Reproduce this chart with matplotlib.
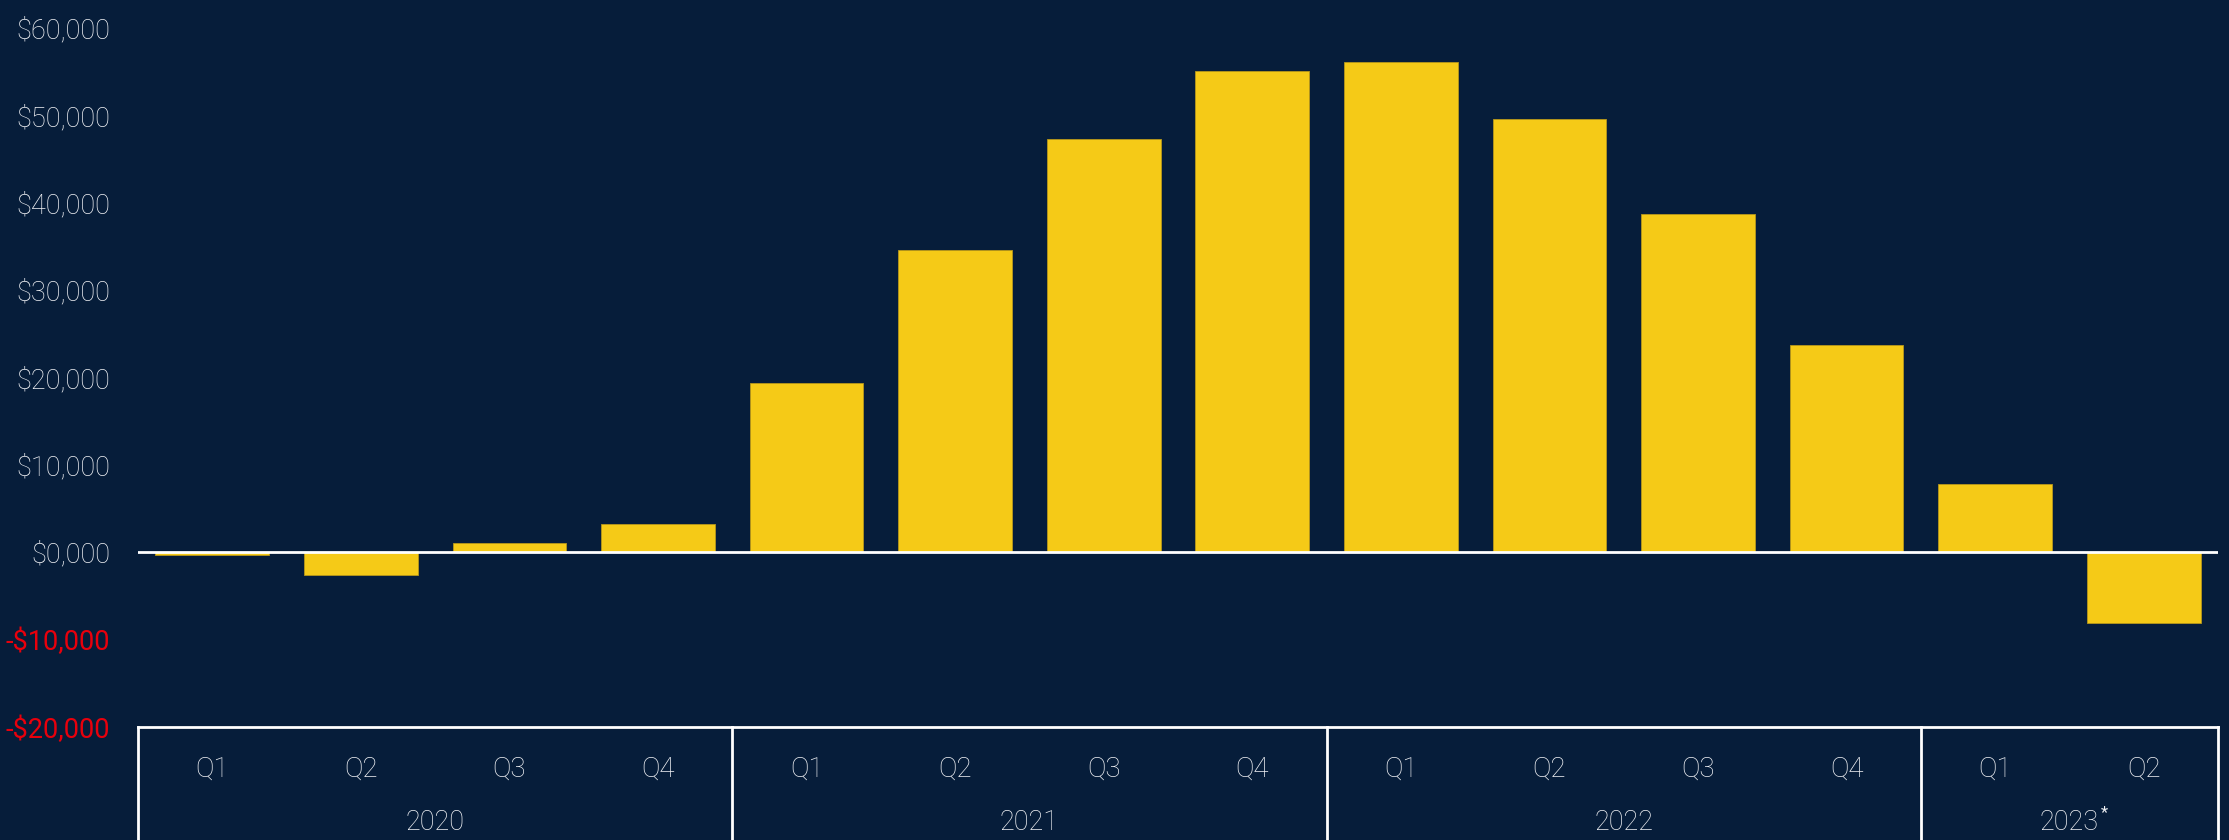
import matplotlib.pyplot as plt
import matplotlib.transforms as mtransforms
from matplotlib.ticker import FuncFormatter, MultipleLocator

# data
quarters = ['Q1', 'Q2', 'Q3', 'Q4', 'Q1', 'Q2', 'Q3', 'Q4',
            'Q1', 'Q2', 'Q3', 'Q4', 'Q1', 'Q2']
years = ['2020', '2021', '2022', '2023']
quarters_per_year = [4, 4, 4, 2]
values = [-300, -2600, 1100, 3200, 19400, 34600, 47300, 55100,
          56100, 49600, 38700, 23700, 7800, -8100]

# colours
bg_color = '#061d3a'
bar_color = '#f5ca17'
text_color = '#f2f3f6'
neg_color = '#e8000c'
line_color = '#ffffff'

plt.rcParams['font.family'] = ['Roboto', 'DejaVu Sans']

W, H = 2229, 840
fig = plt.figure(figsize=(W / 100, H / 100), dpi=100)
fig.patch.set_facecolor(bg_color)

ax_left, ax_right = 138, 2218
ax_top, ax_bottom = 28, 727
ax = fig.add_axes([ax_left / W, 1 - ax_bottom / H,
                   (ax_right - ax_left) / W, (ax_bottom - ax_top) / H])
ax.set_facecolor(bg_color)

x = list(range(len(values)))
ax.bar(x, values, width=0.765, color=bar_color, edgecolor='#b8981a',
       linewidth=0.6, zorder=2)

ax.set_xlim(-0.5, len(values) - 0.5)
ax.set_ylim(-20000, 60000)
ax.yaxis.set_major_locator(MultipleLocator(10000))


def money(v, pos):
    if v == 0:
        return '$0,000'
    s = '${:,.0f}'.format(abs(v))
    return '-' + s if v < 0 else s


ax.yaxis.set_major_formatter(FuncFormatter(money))
ax.tick_params(axis='y', length=0, pad=20, labelsize=19.5, colors=text_color)
ax.tick_params(axis='x', length=0, labelbottom=False)
for lbl in ax.get_yticklabels():
    lbl.set_fontweight('light')

# red for negative ticks
fig.canvas.draw()
for val, lbl in zip(ax.get_yticks(), ax.get_yticklabels()):
    if val < 0:
        lbl.set_color(neg_color)
        lbl.set_fontweight('normal')

for side in ['top', 'right', 'left']:
    ax.spines[side].set_visible(False)
ax.spines['bottom'].set_color(line_color)
ax.spines['bottom'].set_linewidth(2)
ax.axhline(0, color=line_color, linewidth=2, zorder=3)

# two-level category axis
trans = mtransforms.blended_transform_factory(ax.transData, fig.transFigure)
q_y = 1 - 769 / H
yr_y = 1 - 822 / H
for i, q in enumerate(quarters):
    ax.text(i, q_y, q, transform=trans, ha='center', va='center',
            color=text_color, fontsize=20, fontweight='light')

start = 0
bounds = [-0.5]
for yr, n in zip(years, quarters_per_year):
    mid = start + (n - 1) / 2
    t = ax.text(mid, yr_y, yr, transform=trans, ha='center', va='center',
                color=text_color, fontsize=19.5, fontweight='light')
    start += n
    bounds.append(start - 0.5)
    if yr == '2023':
        ax.annotate('*', xy=(1, 1), xycoords=t, xytext=(1, -3),
                    textcoords='offset points', ha='left', va='center',
                    color=text_color, fontsize=12)

for b in bounds:
    ax.plot([b, b], [0, 1 - ax_bottom / H], transform=trans, color=line_color,
            linewidth=2, clip_on=False)

fig.savefig('out.png', dpi=100, facecolor=bg_color)
